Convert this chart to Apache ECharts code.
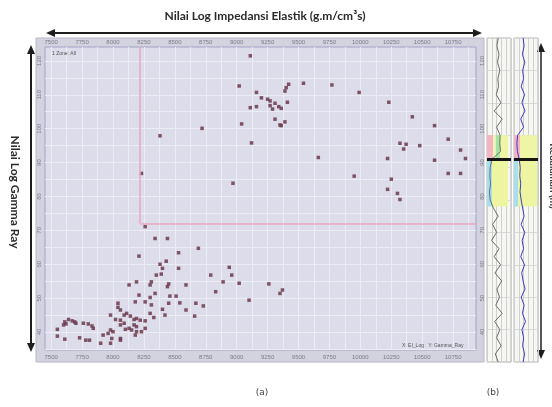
<!DOCTYPE html>
<html>
<head>
<meta charset="utf-8">
<script src="https://cdn.jsdelivr.net/npm/echarts@6/dist/echarts.min.js"></script>
<style>
  html, body { margin: 0; padding: 0; background: #fff; }
  #main { width: 552px; height: 407px; }
</style>
</head>
<body>
<div id="main"></div>
<script>
// crossplot (a): elastic impedance vs gamma ray
let eiValues = [
  9110,9020,9160,9200,9250,9270,9310,9340,9270,9290,
  9160,9110,9040,9310,9350,8720,8380,9120,9420,9400,
  9390,9540,9770,9990,9360,9410,10230,9390,9360,10420,
  10600,10710,10320,10370,10480,10350,10810,9660,10220,10600,
  10850,9950,10250,10710,10810,10220,10300,10320,8230,8970,
  8260,8340,8440,8530,8690,8210,8430,8380,8400,8530,
  8940,8350,8390,8310,8300,8790,8960,8890,9020,8830,
  9100,9260,9350,9370,8130,8190,8450,8440,8590,8210,
  8340,8300,8180,8260,8310,8460,8510,8450,8540,8670,
  8730,8590,8660,8400,8300,8330,8420,8040,8040,7980,
  8020,8060,8090,8110,8140,8170,8190,8060,8090,8130,
  8170,8190,8220,8260,8150,8190,8100,8260,8230,7980,
  8000,7960,7920,7990,8060,8060,8180,7900,7980,7840,
  7730,7780,7810,7610,7550,7550,7600,7610,7640,7670,
  7690,7700,7620,7760,7800,7830,8060
];
let grValues = [
  121.5,112.6,110.7,109.1,108.7,108.2,107.5,106.5,106.8,105.8,
  106.5,106.2,101.4,102.8,101.1,100.1,97.9,95.8,113.1,112.1,
  111.1,113.4,112.9,110.7,106.0,107.8,107.8,102.0,100.9,103.5,
  100.9,96.9,95.7,95.4,95.0,94.0,93.7,91.5,91.2,90.7,
  91.2,86.0,85.1,86.8,86.8,82.1,80.9,79.1,86.8,83.9,
  71.1,67.6,67.6,63.4,64.7,62.4,60.9,60.0,58.8,58.8,
  59.1,56.8,57.1,54.8,53.9,56.8,56.8,54.8,54.4,51.9,
  49.4,54.2,51.4,52.4,53.9,54.8,54.2,53.4,53.9,50.9,
  51.4,50.2,48.9,48.9,48.0,50.6,50.6,48.5,48.6,48.5,
  47.7,46.5,44.7,46.7,45.5,44.3,45.0,48.5,47.3,45.0,
  43.7,43.5,45.0,45.5,44.7,43.7,44.0,42.1,42.6,41.1,
  42.1,41.6,43.5,43.3,40.6,40.1,40.8,41.1,40.1,40.6,
  40.1,39.6,39.1,38.1,38.1,37.6,39.1,36.7,36.7,41.1,
  38.3,37.6,37.6,37.9,38.8,40.8,42.1,43.0,43.7,43.3,
  43.0,42.6,42.4,42.6,42.4,41.8,46.5
];
let eiTicks = [7500,7750,8000,8250,8500,8750,9000,9250,9500,9750,10000,10250,10500,10750];
let eiGrid = [7500,7625,7750,7875,8000,8125,8250,8375,8500,8625,8750,8875,9000,9125,9250,9375,9500,9625,9750,9875,10000,10125,10250,10375,10500,10625,10750,10875];
let grTicks = [40,50,60,70,80,90,100,110,120];
let grGrid = [35,40,45,50,55,60,65,70,75,80,85,90,95,100,105,110,115,120];
let eiMin = 7450, eiMax = 10935;
let grMin = 34.7, grMax = 124.1;
let cutoffEI = 8220, cutoffGR = 72;

// well log panel (b)
let depth = [
  1400,1402.5,1405,1407.5,1410,1412.5,1415,1417.5,1420,1422.5,
  1425,1427.5,1430,1432.5,1435,1437.5,1440,1442.5,1445,1447.5,
  1450,1452.5,1455,1457.5,1460,1462.5,1465,1467.5,1470,1472.5,
  1475,1477.5,1480,1482.5,1485,1487.5,1490,1492.5,1495,1497.5,1500
];
let logGR = [70,62,75,66,80,68,72,58,88,45,95,60,82,80,84,30,20,18,22,16,20,40,70,35,60,28,75,45,85,50,92,62,78,55,95,48,80,60,88,52,70];
let logEI = [38,42,35,45,36,40,30,44,33,46,28,40,15,12,14,22,26,24,28,25,30,36,42,30,45,34,40,28,44,32,38,46,30,42,35,48,33,40,36,44,38];
let zoneTop = 1430, zoneMarker = 1437.5, zoneBase = 1452;

let chart = echarts.init(document.getElementById('main'));

let tickLabel = { fontSize: 6, color: '#7a7a8a', fontFamily: 'Liberation Sans',
  formatter: function (v) { return String(v); } };

function arrowHead(pts) {
  return { type: 'polygon', shape: { points: pts }, style: { fill: '#1e1e1e' } };
}

let option = {
  backgroundColor: '#fff',
  animation: false,
  graphic: [
    { type: 'rect', z: -10, shape: { x: 36, y: 38, width: 448, height: 324 },
      style: { fill: '#d3d3df', stroke: '#b8b8c8', lineWidth: 1 } },
    { type: 'text', x: 265, y: 16,
      style: { text: 'Nilai Log Impedansi Elastik (g.m/cm³s)', fontSize: 12, fontWeight: 'bold',
        fontFamily: 'Lato', fill: '#2a2a2a', align: 'center', verticalAlign: 'middle' } },
    { type: 'line', shape: { x1: 52, y1: 33, x2: 476, y2: 33 }, style: { stroke: '#1e1e1e', lineWidth: 2 } },
    arrowHead([[46, 33], [55, 29], [55, 37]]),
    arrowHead([[482, 33], [473, 29], [473, 37]]),
    { type: 'line', shape: { x1: 31, y1: 52, x2: 31, y2: 345 }, style: { stroke: '#1e1e1e', lineWidth: 2 } },
    arrowHead([[31, 45], [27, 54], [35, 54]]),
    arrowHead([[31, 352], [27, 343], [35, 343]]),
    { type: 'text', x: 15, y: 192, rotation: -Math.PI / 2,
      style: { text: 'Nilai Log Gamma Ray', fontSize: 12, fontWeight: 'bold', fontFamily: 'Lato',
        fill: '#2a2a2a', align: 'center', verticalAlign: 'middle' } },
    { type: 'line', shape: { x1: 541, y1: 50, x2: 541, y2: 352 }, style: { stroke: '#1e1e1e', lineWidth: 1.5 } },
    arrowHead([[541, 43], [537, 52], [545, 52]]),
    arrowHead([[541, 359], [537, 350], [545, 350]]),
    { type: 'text', x: 553, y: 176, rotation: -Math.PI / 2,
      style: { text: 'Kedalaman (m)', fontSize: 10, fontWeight: 'bold', fontFamily: 'Lato',
        fill: '#3a3a3a', align: 'center', verticalAlign: 'middle' } },
    { type: 'text', x: 52, y: 51, z: 10,
      style: { text: '1 Zone: All', fontSize: 5, fill: '#555', fontFamily: 'Liberation Sans' } },
    { type: 'text', x: 402, y: 343, z: 10,
      style: { text: 'X: EI_Log   Y: Gamma_Ray', fontSize: 5, fill: '#555', fontFamily: 'Liberation Sans' } },
    { type: 'text', x: 262, y: 393,
      style: { text: '(a)', fontSize: 9, fill: '#444', fontFamily: 'DejaVu Sans', align: 'center', verticalAlign: 'middle' } },
    { type: 'text', x: 493, y: 393,
      style: { text: '(b)', fontSize: 9, fill: '#444', fontFamily: 'DejaVu Sans', align: 'center', verticalAlign: 'middle' } }
  ],
  grid: [
    { left: 45, top: 47, width: 431, height: 303, show: true, backgroundColor: '#dcdcea', borderColor: '#a2a2c4', borderWidth: 1 },
    { left: 487, top: 38, width: 24, height: 324, show: true, backgroundColor: '#f6f6f2', borderColor: '#b5b5b5', borderWidth: 1 },
    { left: 514, top: 38, width: 24, height: 324, show: true, backgroundColor: '#f6f6f2', borderColor: '#b5b5b5', borderWidth: 1 }
  ],
  xAxis: [
    { type: 'value', gridIndex: 0, position: 'top', min: eiMin, max: eiMax,
      axisLine: { show: false },
      axisTick: { show: false, customValues: eiGrid },
      axisLabel: Object.assign({ customValues: eiTicks, margin: 2 }, tickLabel),
      splitLine: { show: true, lineStyle: { color: '#ececf4', width: 1 } } },
    { type: 'value', gridIndex: 0, position: 'bottom', min: eiMin, max: eiMax,
      axisLine: { show: false },
      axisTick: { show: false },
      axisLabel: Object.assign({ customValues: eiTicks, margin: 4 }, tickLabel),
      splitLine: { show: false } },
    { type: 'value', gridIndex: 1, min: 0, max: 150, interval: 30,
      axisLine: { show: false }, axisTick: { show: false }, axisLabel: { show: false },
      splitLine: { lineStyle: { color: '#cfcfcf' } } },
    { type: 'value', gridIndex: 2, min: 0, max: 100, interval: 20,
      axisLine: { show: false }, axisTick: { show: false }, axisLabel: { show: false },
      splitLine: { lineStyle: { color: '#cfcfcf' } } }
  ],
  yAxis: [
    { type: 'value', gridIndex: 0, position: 'left', min: grMin, max: grMax,
      axisLine: { show: false },
      axisTick: { show: false, customValues: grGrid },
      axisLabel: Object.assign({ customValues: grTicks, rotate: 90, margin: 3 }, tickLabel),
      splitLine: { show: true, lineStyle: { color: '#ececf4', width: 1 } } },
    { type: 'value', gridIndex: 0, position: 'right', min: grMin, max: grMax,
      axisLine: { show: false },
      axisTick: { show: false },
      axisLabel: Object.assign({ customValues: grTicks, rotate: 90, margin: 3 }, tickLabel),
      splitLine: { show: false } },
    { type: 'value', gridIndex: 1, inverse: true, min: 1400, max: 1500, interval: 10,
      axisLine: { show: false }, axisTick: { show: false }, axisLabel: { show: false },
      splitLine: { lineStyle: { color: '#d8d8d8' } } },
    { type: 'value', gridIndex: 2, inverse: true, min: 1400, max: 1500, interval: 10,
      axisLine: { show: false }, axisTick: { show: false }, axisLabel: { show: false },
      splitLine: { lineStyle: { color: '#d8d8d8' } } }
  ],
  series: [
    {
      type: 'scatter', xAxisIndex: 0, yAxisIndex: 0,
      symbol: 'rect', symbolSize: 3.5,
      itemStyle: { color: '#6b3a4c', opacity: 0.85 },
      data: eiValues.map(function (v, i) { return [v, grValues[i]]; }),
      markLine: {
        silent: true, symbol: 'none', label: { show: false },
        lineStyle: { color: '#eaa9c0', width: 1.5, type: 'solid' },
        data: [
          [{ coord: [cutoffEI, grMax] }, { coord: [cutoffEI, cutoffGR] }],
          [{ coord: [cutoffEI, cutoffGR] }, { coord: [eiMax, cutoffGR] }]
        ]
      }
    },
    {
      type: 'line', xAxisIndex: 2, yAxisIndex: 2, showSymbol: false,
      lineStyle: { color: '#6a6a6a', width: 1 },
      data: depth.map(function (d, i) { return [logGR[i], d]; }),
      markArea: {
        silent: true,
        data: [
          [{ coord: [0, zoneTop], itemStyle: { color: '#f4b4c2' } }, { coord: [37, zoneMarker] }],
          [{ coord: [37, zoneTop], itemStyle: { color: '#eef3b8' } }, { coord: [56, zoneMarker] }],
          [{ coord: [56, zoneTop], itemStyle: { color: '#a4e3a0' } }, { coord: [81, zoneMarker] }],
          [{ coord: [81, zoneTop], itemStyle: { color: '#eef5a4' } }, { coord: [131, zoneMarker] }],
          [{ coord: [0, zoneMarker], itemStyle: { color: '#a8dfee' } }, { coord: [31, zoneBase] }],
          [{ coord: [31, zoneMarker], itemStyle: { color: '#eef5a0' } }, { coord: [131, zoneBase] }]
        ]
      },
      markLine: {
        silent: true, symbol: 'none', label: { show: false },
        lineStyle: { color: '#151515', width: 3, type: 'solid' },
        data: [{ yAxis: zoneMarker }]
      }
    },
    {
      type: 'line', xAxisIndex: 3, yAxisIndex: 3, showSymbol: false,
      lineStyle: { color: '#3b3bc4', width: 1 },
      data: depth.map(function (d, i) { return [logEI[i], d]; }),
      markArea: {
        silent: true,
        data: [
          [{ coord: [0, zoneTop], itemStyle: { color: '#f4b4c2' } }, { coord: [25, zoneMarker] }],
          [{ coord: [25, zoneTop], itemStyle: { color: '#eef5a4' } }, { coord: [96, zoneMarker] }],
          [{ coord: [0, zoneMarker], itemStyle: { color: '#a8dfee' } }, { coord: [17, zoneBase] }],
          [{ coord: [17, zoneMarker], itemStyle: { color: '#eef5a0' } }, { coord: [96, zoneBase] }]
        ]
      },
      markLine: {
        silent: true, symbol: 'none', label: { show: false },
        lineStyle: { color: '#151515', width: 3, type: 'solid' },
        data: [{ yAxis: zoneMarker }]
      }
    }
  ]
};

chart.setOption(option);
</script>
</body>
</html>
